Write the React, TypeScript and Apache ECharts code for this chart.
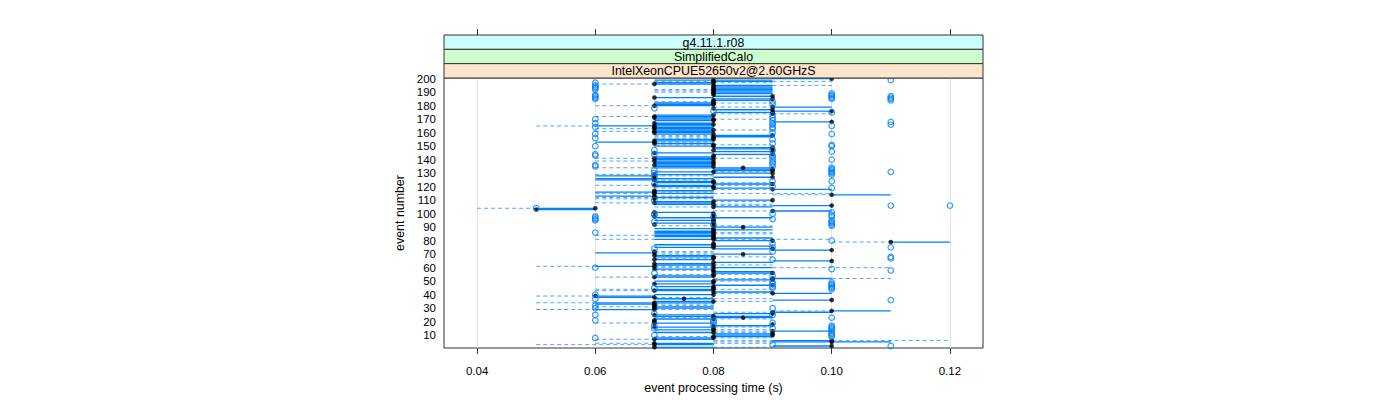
import React, { useEffect, useRef } from 'react';
import * as echarts from 'echarts';

// ---------- labels ----------
const stripLabels = ['g4.11.1.r08', 'SimplifiedCalo', 'IntelXeonCPUE52650v2@2.60GHzS'];
const stripColors = ['#ccffff', '#ccffcc', '#ffe5cc'];
const xTicks = [0.04, 0.06, 0.08, 0.1, 0.12];
const yTicks = [10, 20, 30, 40, 50, 60, 70, 80, 90, 100, 110, 120, 130, 140, 150, 160, 170, 180, 190, 200];
const xTitle = 'event processing time (s)';
const yTitle = 'event number';

// ---------- per-event box statistics, hundredths of a second, events 1..200 ----------
const whiskerLow = [
  7, 9, 5, 6, 8, 8, 6, 7, 7, 8,
  8, 7, 8, 7, 8, 7, 8, 9, 6, 7,
  7, 7, 7, 7, 7, 8, 8, 9, 5, 7,
  6, 7, 6, 5, 7, 9, 7, 6, 5, 7,
  8, 8, 6, 6, 8, 7, 8, 7, 8, 7,
  8, 8, 6, 7, 7, 8, 8, 7, 7, 7,
  5, 7, 7, 8, 9, 7, 7, 7, 7, 7,
  6, 7, 9, 8, 7, 8, 7, 8, 10, 8,
  6, 8, 7, 6, 7, 7, 7, 8, 7, 8,
  7, 7, 7, 8, 7, 8, 7, 7, 8, 8,
  7, 8, 5, 4, 7, 8, 7, 6, 7, 8,
  6, 6, 6, 9, 6, 6, 7, 8, 7, 7,
  6, 8, 7, 7, 6, 6, 8, 6, 6, 8,
  7, 8, 8, 6, 7, 7, 7, 7, 6, 7,
  6, 7, 8, 8, 7, 8, 8, 8, 8, 7,
  7, 7, 6, 7, 7, 7, 7, 7, 7, 7,
  6, 7, 6, 7, 5, 7, 7, 9, 7, 7,
  7, 6, 7, 8, 8, 9, 8, 8, 8, 6,
  7, 7, 7, 8, 8, 7, 8, 8, 8, 7,
  7, 7, 8, 8, 8, 6, 7, 7, 7, 9,
];
const boxLow = [
  7, 9, 7, 7, 9, 9, 7, 7, 8, 8,
  8, 7, 9, 7, 8, 7, 8, 9, 7, 7,
  7, 7, 8, 7, 7, 8, 9, 10, 6, 7,
  7, 7, 6, 6, 7, 9, 7, 6, 6, 7,
  9, 8, 7, 7, 8, 7, 8, 7, 8, 7,
  8, 9, 7, 7, 8, 8, 8, 8, 7, 8,
  6, 7, 7, 8, 9, 7, 8, 7, 7, 8,
  6, 7, 9, 8, 7, 8, 7, 8, 11, 8,
  7, 8, 7, 7, 7, 7, 7, 8, 7, 8,
  8, 7, 7, 8, 7, 8, 7, 7, 8, 8,
  7, 9, 5, 5, 8, 9, 7, 7, 7, 8,
  7, 7, 6, 10, 7, 6, 7, 9, 8, 7,
  7, 8, 7, 7, 6, 6, 8, 6, 7, 8,
  7, 8, 8, 7, 7, 7, 7, 7, 7, 7,
  7, 7, 8, 8, 7, 8, 8, 8, 8, 7,
  8, 7, 6, 7, 7, 8, 8, 8, 7, 7,
  7, 7, 7, 7, 6, 7, 7, 9, 7, 7,
  7, 7, 7, 9, 8, 9, 8, 8, 9, 7,
  7, 7, 8, 8, 8, 7, 8, 8, 8, 8,
  8, 8, 8, 8, 8, 7, 7, 8, 7, 9,
];
const median = [
  7, 10, 7, 7, 10, 10, 7, 8, 8, 9,
  9, 8, 9, 8, 8, 7, 8, 9, 7, 7,
  7, 8, 8.5, 8, 7, 9, 9, 10, 7, 7,
  7, 7, 7, 7, 8, 10, 7.5, 7, 6, 8,
  9, 8, 7, 8, 8, 8, 9, 7, 8, 8,
  9, 9, 7, 8, 8, 9, 8, 8, 7, 8,
  7, 8, 7, 8, 10, 7, 8, 8, 7, 8.5,
  7, 7, 10, 9, 8, 8, 8, 8, 11, 9,
  8, 8, 8, 8, 8, 8, 8, 8, 8, 8.5,
  8, 7, 8, 8, 8, 8, 8, 7, 8, 8,
  7, 9, 5, 6, 8, 10, 8, 7, 8, 9,
  7, 7, 7, 10, 7, 7, 7, 9, 8, 8,
  7, 9, 8, 8, 7, 7, 9, 7, 7, 9,
  8, 9, 9, 8.5, 8, 7, 8, 8, 7, 8,
  7, 8, 8, 9, 7, 9, 8, 9, 9, 8,
  8, 7, 7, 7, 8, 8, 8, 9, 8, 7,
  7, 8, 7, 7, 7, 8, 7, 10, 8, 8,
  7, 7, 8, 9, 9, 10, 9, 8, 9, 7,
  8, 8, 8, 8, 9, 7, 9, 8, 8, 8,
  8, 8, 8, 8, 8, 7, 8, 8, 8, 10,
];
const boxHigh = [
  8, 10, 8, 8, 11, 10, 8, 8, 9, 9,
  9, 8, 10, 8, 8, 8, 9, 9, 8, 7,
  7, 8, 9, 9, 8, 9, 10, 11, 7, 8,
  8, 7, 7, 8, 8, 10, 8, 7, 7, 8,
  10, 9, 8, 8, 8, 8, 9, 8, 8, 8,
  9, 10, 8, 8, 8, 9, 9, 8, 8, 9,
  7, 8, 8, 9, 10, 8, 8, 8, 8, 9,
  7, 7, 10, 9, 8, 9, 8, 8, 12, 9,
  8, 9, 8, 8, 8, 8, 8, 9, 8, 9,
  8, 7, 8, 8, 8, 8, 9, 7, 8, 8,
  8, 10, 6, 6, 9, 10, 8, 8, 8, 9,
  7, 8, 7, 11, 8, 7, 8, 10, 9, 8,
  8, 9, 8, 8, 7, 8, 9, 7, 8, 9,
  8, 9, 9, 9, 8, 8, 8, 8, 8, 8,
  8, 8, 8, 9, 8, 9, 8, 9, 9, 8,
  8, 8, 7, 8, 8, 8, 9, 9, 8, 8,
  8, 8, 8, 8, 8, 8, 8, 10, 8, 8,
  8, 8, 8, 9, 9, 10, 9, 8, 10, 8,
  8, 8, 8, 9, 9, 8, 9, 8, 9, 9,
  9, 9, 9, 9, 9, 8, 8, 9, 9, 10,
];
const whiskerHigh = [
  9, 10, 8, 9, 11, 12, 8, 9, 9, 9,
  9, 9, 10, 9, 8, 9, 9, 9, 8, 7,
  7, 9, 9, 9, 8, 9, 10, 11, 8, 8,
  8, 8, 8, 8, 9, 10, 9, 8, 7, 8,
  10, 9, 8, 9, 8, 8, 9, 8, 8, 9,
  9, 11, 8, 8, 9, 9, 9, 8, 8, 11,
  8, 9, 8, 9, 10, 8, 8, 9, 8, 9,
  8, 8, 10, 9, 8, 9, 8, 8, 12, 9,
  10, 9, 8, 8, 9, 9, 8, 9, 8, 9,
  9, 7, 8, 8, 8, 8, 9, 7, 8, 8,
  8, 10, 6, 6, 9, 10, 9, 8, 9, 9,
  8, 8, 8, 11, 10, 8, 8, 10, 9, 8,
  9, 9, 9, 8, 8, 8, 9, 8, 8, 9,
  9, 9, 9, 9, 8, 8, 8, 8, 8, 8,
  9, 8, 8, 9, 8, 9, 8, 9, 9, 8,
  9, 8, 8, 8, 8, 8, 9, 9, 8, 8,
  8, 9, 8, 8, 8, 8, 8, 10, 8, 9,
  8, 8, 8, 10, 9, 10, 9, 8, 10, 8,
  8, 9, 8, 9, 9, 8, 9, 8, 9, 9,
  9, 9, 9, 9, 10, 8, 9, 10, 9, 10,
];
// outliers: [event number, time in hundredths of a second]
const outliers: [number, number][] = [
  [2, 11], [3, 9], [8, 6], [9, 10], [10, 7], [10, 10], [11, 10], [12, 10], [14, 10],
  [15, 7], [15, 9], [15, 10], [16, 10], [17, 7], [17, 10], [18, 8], [19, 9], [20, 8],
  [21, 6], [21, 8], [23, 10], [25, 6], [25, 9], [26, 7], [30, 6], [30, 9], [32, 6],
  [36, 11], [37, 6], [40, 6], [44, 10], [45, 7], [45, 9], [45, 10], [46, 9], [46, 10],
  [47, 10], [48, 9], [48, 10], [49, 9], [49, 10], [54, 9], [56, 7], [58, 11], [59, 10],
  [60, 6], [66, 9], [67, 11], [68, 11], [72, 9], [74, 7], [75, 9], [75, 11], [78, 9],
  [80, 10], [86, 6], [91, 10], [92, 8], [92, 10], [93, 10], [94, 7], [94, 10], [95, 6],
  [95, 10], [96, 6], [96, 9], [97, 6], [98, 6], [98, 8], [98, 10], [99, 7], [99, 10],
  [100, 7], [100, 9], [101, 10], [104, 5], [106, 11], [106, 12], [110, 7], [119, 10],
  [120, 9], [122, 7], [124, 9], [124, 10], [127, 7], [129, 10], [130, 7], [130, 10],
  [131, 10], [131, 11], [132, 7], [132, 10], [133, 10], [134, 10], [135, 6], [135, 9],
  [136, 6], [137, 9], [138, 9], [140, 9], [140, 10], [142, 9], [143, 6], [143, 9],
  [144, 6], [144, 7], [146, 10], [147, 7], [147, 9], [150, 6], [150, 10], [151, 10],
  [152, 9], [155, 9], [156, 6], [159, 6], [159, 10], [160, 9], [163, 9], [164, 6],
  [164, 9], [165, 10], [166, 9], [166, 11], [167, 6], [167, 9], [168, 11], [169, 9],
  [170, 6], [171, 9], [173, 9], [175, 10], [176, 8], [178, 7], [181, 9], [183, 9],
  [184, 11], [185, 6], [185, 10], [185, 11], [186, 6], [186, 10], [186, 11], [187, 6],
  [187, 10], [187, 11], [188, 6], [188, 10], [189, 10], [192, 6], [193, 6], [194, 6],
  [195, 6], [197, 6], [199, 11],
];

const BLUE = '#0080ff';
const FONT = '"Liberation Sans", Arial, Helvetica, sans-serif';

export default function App() {
  const ref = useRef<HTMLDivElement>(null);

  useEffect(() => {
    if (!ref.current) return;
    const chart = echarts.init(ref.current, undefined, { renderer: 'svg' });

    const boxData = whiskerLow.map((lo, i) => [
      i + 1, lo / 100, boxLow[i] / 100, median[i] / 100, boxHigh[i] / 100, whiskerHigh[i] / 100,
    ]);
    const medianData = median.map((m, i) => [m / 100, i + 1]);
    const outlierData = outliers.map(([e, v]) => [v / 100, e]);

    const gridLeft = 444;
    const gridTop = 78;
    const gridW = 539;
    const gridH = 270;
    const stripH = (gridTop - 35) / 3;

    const graphic: any[] = [];
    stripLabels.forEach((lab, i) => {
      const y = 35 + i * stripH;
      graphic.push({
        type: 'rect',
        shape: { x: gridLeft, y, width: gridW, height: stripH },
        style: { fill: stripColors[i], stroke: '#333', lineWidth: 1 },
        z: 10,
      });
      graphic.push({
        type: 'text',
        x: gridLeft + gridW / 2,
        y: y + stripH / 2 + 0.5,
        style: {
          text: lab, fill: '#000', font: `12.4px ${FONT}`,
          textAlign: 'center', textVerticalAlign: 'middle',
        },
        z: 11,
      });
    });

    const option: any = {
      animation: false,
      grid: {
        left: gridLeft, top: gridTop, width: gridW, height: gridH,
        show: true, borderColor: '#333', borderWidth: 1, backgroundColor: 'transparent',
      },
      xAxis: [
        {
          type: 'value', min: 0.0344, max: 0.1256, position: 'bottom',
          axisLine: { show: false },
          axisTick: { show: true, length: 6, lineStyle: { color: '#333' }, customValues: xTicks },
          axisLabel: {
            customValues: xTicks, formatter: (v: number) => v.toFixed(2),
            fontSize: 11.5, color: '#000', margin: 17, fontFamily: FONT,
          },
          splitLine: { show: true, lineStyle: { color: '#e6e6e6', width: 1 } },
          name: xTitle, nameLocation: 'middle', nameGap: 31,
          nameTextStyle: { fontSize: 12.4, color: '#000', fontFamily: FONT },
        },
        {
          type: 'value', min: 0.0344, max: 0.1256, position: 'top', offset: 43,
          axisLine: { show: false },
          axisTick: { show: true, length: 6, lineStyle: { color: '#333' }, customValues: xTicks },
          axisLabel: { show: false },
          splitLine: { show: false },
        },
      ],
      yAxis: {
        type: 'value', min: 0.5, max: 200.5,
        axisLine: { show: false },
        axisTick: { show: false },
        axisLabel: {
          customValues: yTicks, fontSize: 11.5, color: '#000', margin: 8, fontFamily: FONT,
        },
        splitLine: { show: false },
        name: yTitle, nameLocation: 'middle', nameGap: 38,
        nameTextStyle: { fontSize: 12.4, color: '#000', fontFamily: FONT },
      },
      graphic,
      series: [
        {
          type: 'custom',
          xAxisIndex: 0,
          yAxisIndex: 0,
          data: boxData,
          encode: { x: [1, 2, 3, 4, 5], y: 0 },
          clip: true,
          renderItem: (params: any, api: any) => {
            const e = api.value(0);
            const lo = api.coord([api.value(1), e]);
            const q1 = api.coord([api.value(2), e]);
            const q3 = api.coord([api.value(4), e]);
            const hi = api.coord([api.value(5), e]);
            const y = lo[1];
            const children: any[] = [];
            const dashed = { stroke: BLUE, lineWidth: 1, lineDash: [4, 3], opacity: 0.7 };
            if (q1[0] - lo[0] > 0.5) {
              children.push({ type: 'line', shape: { x1: lo[0], y1: y, x2: q1[0], y2: y }, style: dashed });
            }
            if (hi[0] - q3[0] > 0.5) {
              children.push({ type: 'line', shape: { x1: q3[0], y1: y, x2: hi[0], y2: y }, style: dashed });
            }
            if (q3[0] - q1[0] > 0.5) {
              children.push({
                type: 'line', shape: { x1: q1[0], y1: y, x2: q3[0], y2: y },
                style: { stroke: BLUE, lineWidth: 1.3 },
              });
            }
            return { type: 'group', children };
          },
          z: 2,
        },
        {
          type: 'scatter',
          data: medianData,
          symbol: 'circle',
          symbolSize: 4.6,
          itemStyle: { color: '#000' },
          z: 3,
        },
        {
          type: 'scatter',
          data: outlierData,
          symbol: 'circle',
          symbolSize: 5.6,
          itemStyle: { color: 'transparent', borderColor: BLUE, borderWidth: 1.2 },
          z: 4,
        },
      ],
    };

    chart.setOption(option);
    return () => chart.dispose();
  }, []);

  return (
    <div
      ref={ref}
      style={{ position: 'fixed', left: 0, top: 0, width: 1400, height: 400, background: '#fff' }}
    />
  );
}
